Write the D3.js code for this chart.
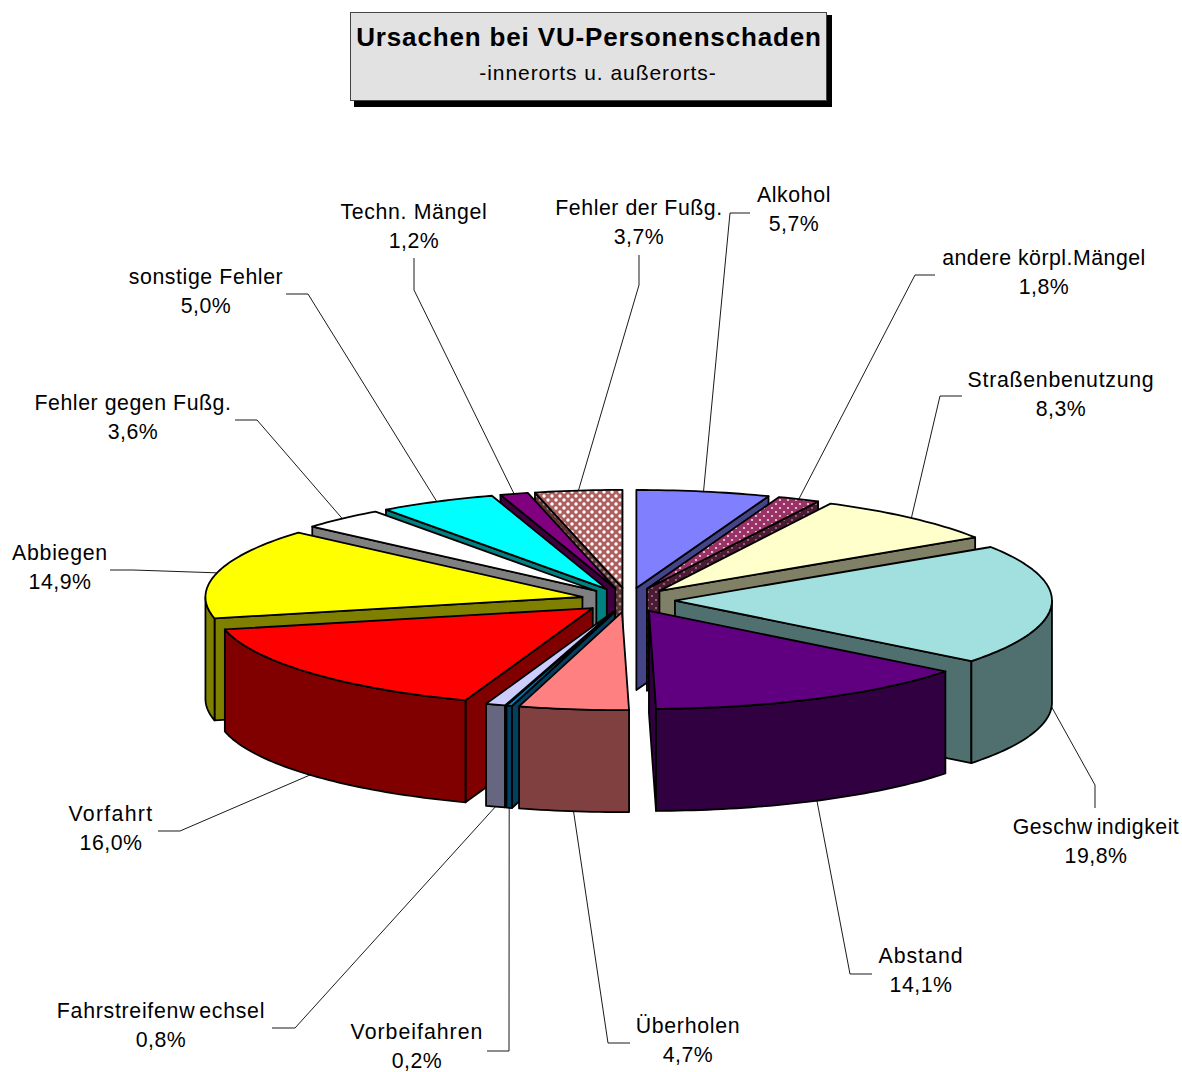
<!DOCTYPE html>
<html><head><meta charset="utf-8">
<script src="https://cdn.jsdelivr.net/npm/d3@7"></script>
<style>html,body{margin:0;background:#fff}svg{display:block}text{font-family:"Liberation Sans",Arial,sans-serif;fill:#000}</style>
</head><body><div id="c"></div>
<script>
const categories = ["Alkohol","andere körpl.Mängel","Straßenbenutzung","Geschwindigkeit","Abstand","Überholen","Vorbeifahren","Fahrstreifenwechsel","Vorfahrt","Abbiegen","Fehler gegen Fußg.","sonstige Fehler","Techn. Mängel","Fehler der Fußg."];
// estimates that round to the printed labels and add up to 100
const values = [5.7,1.8,8.3,19.8,14.1,4.7,0.24,0.84,16.02,14.92,3.62,5.03,1.2,3.73];
const valueLabels = ["5,7%","1,8%","8,3%","19,8%","14,1%","4,7%","0,2%","0,8%","16,0%","14,9%","3,6%","5,0%","1,2%","3,7%"];
const topColors = ["#8080ff","url(#dots)","#ffffcc","#a2e0e0","#600080","#ff8080","#0080c0","#ccccff","#ff0000","#ffff00","#ffffff","#00ffff","#800080","url(#check)"];
const sideColors = ["#444488","url(#dotsDark)","#808066","#507070","#300040","#804040","#004060","#666680","#800000","#808000","#808080","#008080","#400040","url(#checkDark)"];
// label layout: centre x, first-line y, letter spacing, elbow, leader end
const labelX = [794,1044,1061,1096,921,688,417,161,111,60,133,206,414,639];
const labelY = [194,257,379,826,955,1025,1031,1010,813,552,402,276,211,207];
const labelSpacing = [0.6,0.5,0.72,0.5,1.0,0.72,1.0,0.72,1.3,0.72,0.55,0.6,0.65,0.55];
const elbows = [[[730,213],[750,213]],[[915,275],[935,275]],[[940,396],[962,396]],[[1095,785],[1095,808]],[[850,974],[872,974]],[[608,1043],[630,1043]],[[509,1051],[487,1051]],[[295,1028],[272,1028]],[[180,831],[158,831]],[[133,570],[110,570]],[[257,420],[235,420]],[[308,294],[286,294]],[[414,290],[414,258]],[[639,285],[639,255]]];
const titleText = "Ursachen bei VU-Personenschaden";
const subtitleText = "-innerorts u. außerorts-";

const W=1182,H=1072;
const cx=628, cy=600, rx=377, ry=98, depth=102, explode=47;
// unit-circle scales: projected pie plane
const px=d3.scaleLinear().domain([-1,1]).range([cx-rx,cx+rx]);
const py=d3.scaleLinear().domain([-1,1]).range([cy-ry,cy+ry]);

const svg=d3.select("#c").append("svg").attr("width",W).attr("height",H);
const defs=svg.append("defs");
function pat(id,bg,fg,r){
  const p=defs.append("pattern").attr("id",id).attr("width",8).attr("height",8).attr("patternUnits","userSpaceOnUse");
  p.append("rect").attr("width",8).attr("height",8).attr("fill",bg);
  [[0,0],[8,0],[0,8],[8,8],[4,4]].forEach(d=>p.append("circle").attr("cx",d[0]).attr("cy",d[1]).attr("r",r).attr("fill",fg));
}
pat("dots","#993366","#f0d8e4",1.1);
pat("dotsDark","#4d1a33","#a08090",1.0);
pat("check","#ad5f5f","#ffffff",1.7);
pat("checkDark","#5a3333","#a89090",1.5);

// title box
svg.append("rect").attr("x",354).attr("y",15).attr("width",478).attr("height",92).attr("fill","#000");
svg.append("rect").attr("x",350.5).attr("y",12.5).attr("width",476).attr("height",88).attr("fill","#e2e2e2").attr("stroke","#444").attr("stroke-width",1);
svg.append("text").attr("x",589).attr("y",46).attr("text-anchor","middle").attr("font-weight","bold").attr("font-size",26).attr("letter-spacing",0.85).text(titleText);
svg.append("text").attr("x",598).attr("y",80).attr("text-anchor","middle").attr("font-size",21).attr("letter-spacing",0.95).text(subtitleText);

const pie=d3.pie().sort(null).value(d=>d)(values);
const line=d3.line();
const unitX=a=>Math.sin(a), unitY=a=>-Math.cos(a);
const slices=pie.map((p,i)=>{
  const mid=(p.startAngle+p.endAngle)/2;
  const ox=px(explode/rx*unitX(mid))-cx, oy=py(explode/rx*unitY(mid))-cy;
  const pt=(a,dz=0)=>[px(unitX(a))+ox,py(unitY(a))+oy+dz];
  return {i,mid,start:p.startAngle,end:p.endAngle,ox,oy,pt,apex:[cx+ox,cy+oy]};
});
const order=slices.slice().sort((a,b)=>Math.cos(b.mid)-Math.cos(a.mid));
const chart=svg.append("g").attr("stroke","#000").attr("stroke-width",1.8).attr("stroke-linejoin","round");
const arcPts=(s,a0,a1,dz)=>{
  const n=Math.max(2,Math.ceil((a1-a0)/0.02));
  return d3.range(n+1).map(k=>s.pt(a0+(a1-a0)*k/n,dz));
};
order.forEach(s=>{
  const g=chart.append("g").attr("class","slice");
  const side=sideColors[s.i];
  const down=p=>[p[0],p[1]+depth];
  // only the cut faces turned to the viewer are drawn
  const faces=[];
  if(Math.sin(s.start)<0) faces.push(s.start);
  if(Math.sin(s.end)>0) faces.push(s.end);
  faces.forEach(a=>{
    const e=s.pt(a);
    g.append("path").attr("d",line([s.apex,e,down(e),down(s.apex)])+"Z").attr("fill",side);
  });
  const a0=Math.max(s.start,Math.PI/2), a1=Math.min(s.end,3*Math.PI/2);
  if(a1>a0){
    g.append("path").attr("d",line(arcPts(s,a0,a1,0).concat(arcPts(s,a0,a1,depth).reverse()))+"Z").attr("fill",side);
  }
  g.append("path").attr("d",line([s.apex].concat(arcPts(s,s.start,s.end,0)))+"Z").attr("fill",topColors[s.i]);
});

// leaders and labels
const leaders=svg.append("g").attr("fill","none").attr("stroke","#000").attr("stroke-width",0.9);
const labels=svg.append("g").attr("text-anchor","middle").attr("font-size",21.3).attr("letter-spacing",0.5);
slices.forEach(s=>{
  const front=Math.cos(s.mid)<0;
  const anchor=s.pt(s.mid,front?depth:0);
  leaders.append("path").attr("d",line([anchor].concat(elbows[s.i])));
  const name=categories[s.i];
  const t=labels.append("text").attr("x",labelX[s.i]).attr("y",labelY[s.i]+7.5).attr("letter-spacing",labelSpacing[s.i]);
  const cut=(name==="Geschwindigkeit"||name==="Fahrstreifenwechsel")?name.indexOf("w")+1:-1;
  if(cut>0){
    t.append("tspan").text(name.slice(0,cut));
    t.append("tspan").attr("dx",4).text(name.slice(cut));
  } else t.text(name);
  labels.append("text").attr("x",labelX[s.i]).attr("y",labelY[s.i]+37).text(valueLabels[s.i]);
});
</script></body></html>
